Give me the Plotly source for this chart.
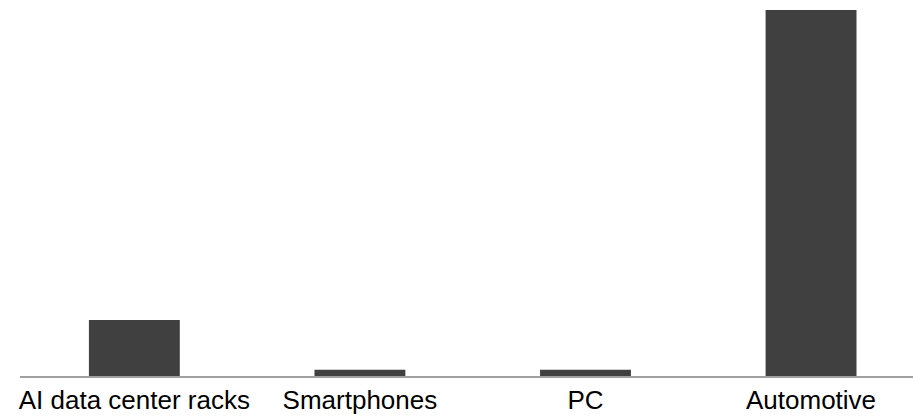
import plotly.graph_objects as go

categories = ["AI data center racks", "Smartphones", "PC", "Automotive"]
values = [15.3, 1.7, 1.7, 100]

fig = go.Figure(go.Bar(
    x=categories, y=values,
    marker=dict(color="#404040", line=dict(width=0)),
    width=0.403,
))
fig.update_layout(
    width=913, height=419,
    margin=dict(l=20, r=0, t=10, b=43),
    paper_bgcolor="white", plot_bgcolor="white",
    showlegend=False,
    font=dict(family="Liberation Sans, Arial, sans-serif", size=26, color="#000000"),
)
fig.update_xaxes(
    type="category", range=[-0.507, 3.452],
    showline=True, linecolor="#a0a0a0", linewidth=2,
    showgrid=False, ticks="", zeroline=False,
    tickfont=dict(size=26, color="#000000"),
)
fig.update_yaxes(range=[0, 100], visible=False, showgrid=False, zeroline=False)
fig.write_html(
    "out.html",
    config={"displayModeBar": False, "staticPlot": True},
    post_script="document.body.style.margin='0';document.body.style.overflow='hidden';",
)
